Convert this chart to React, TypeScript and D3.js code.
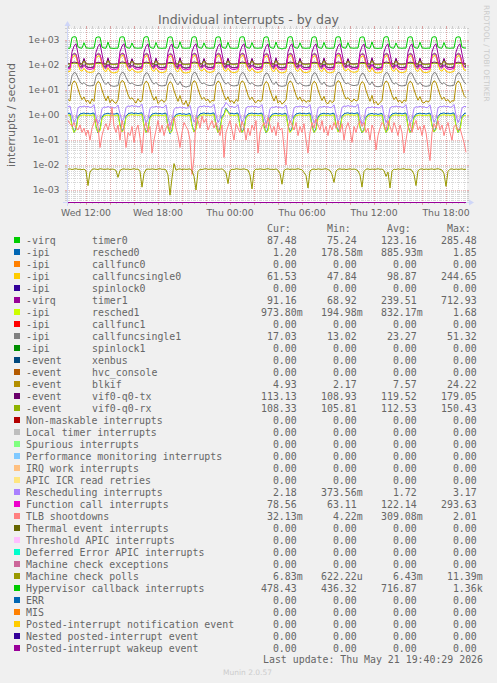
import React from "react";
import * as d3 from "d3";

const WIDTH = 497;
const HEIGHT = 683;
const X0 = 67;
const X1 = 467;
const Y_TOP = 28;
const Y_BOT = 202;

const startTime = new Date(2026, 4, 20, 10, 25);
const endTime = new Date(2026, 4, 21, 19, 45);
const firstSample = new Date(2026, 4, 20, 10, 30);
const stepMinutes = 10;

const title = "Individual interrupts - by day";
const yAxisTitle = "interrupts / second";
const lastUpdate = "Last update: Thu May 21 19:40:29 2026";
const munin = "Munin 2.0.57";
const sideText = "RRDTOOL / TOBI OETIKER";

const yTickValues = [1e-3, 1e-2, 1e-1, 1e0, 1e1, 1e2, 1e3];
const yTickLabels = ["1e-03", "1e-02", "1e-01", "1e+00", "1e+01", "1e+02", "1e+03"];

const palette = [
  "#00CC00", "#0066B3", "#FF8000", "#FFCC00", "#330099", "#990099", "#CCFF00", "#FF0000",
  "#808080", "#008F00", "#00487D", "#B35A00", "#B38F00", "#6B006B", "#8FB300", "#B30000",
  "#BEBEBE", "#80FF80", "#80C9FF", "#FFC080", "#FFE680", "#AA80FF", "#EE00CC", "#FF8080",
  "#666600", "#FFBFFF", "#00FFCC", "#CC6699", "#999900", "#00CC00", "#0066B3", "#FF8000",
  "#FFCC00", "#330099", "#990099",
];

const legendPrefix = [
  "-virq", "-ipi", "-ipi", "-ipi", "-ipi", "-virq", "-ipi", "-ipi", "-ipi", "-ipi",
  "-event", "-event", "-event", "-event", "-event",
  "", "", "", "", "", "", "", "", "", "", "", "", "", "", "", "", "", "", "", "",
];
const legendName = [
  "timer0", "resched0", "callfunc0", "callfuncsingle0", "spinlock0", "timer1", "resched1",
  "callfunc1", "callfuncsingle1", "spinlock1", "xenbus", "hvc_console", "blkif", "vif0-q0-tx",
  "vif0-q0-rx", "Non-maskable interrupts", "Local timer interrupts", "Spurious interrupts",
  "Performance monitoring interrupts", "IRQ work interrupts", "APIC ICR read retries",
  "Rescheduling interrupts", "Function call interrupts", "TLB shootdowns",
  "Thermal event interrupts", "Threshold APIC interrupts", "Deferred Error APIC interrupts",
  "Machine check exceptions", "Machine check polls", "Hypervisor callback interrupts", "ERR",
  "MIS", "Posted-interrupt notification event", "Nested posted-interrupt event",
  "Posted-interrupt wakeup event",
];

const columnHeaders = ["Cur:", "Min:", "Avg:", "Max:"];
const curValues = [
  "87.48", "1.20", "0.00", "61.53", "0.00", "91.16", "973.80m", "0.00", "17.03", "0.00",
  "0.00", "0.00", "4.93", "113.13", "108.33", "0.00", "0.00", "0.00", "0.00", "0.00", "0.00",
  "2.18", "78.56", "32.13m", "0.00", "0.00", "0.00", "0.00", "6.83m", "478.43", "0.00",
  "0.00", "0.00", "0.00", "0.00",
];
const minValues = [
  "75.24", "178.58m", "0.00", "47.84", "0.00", "68.92", "194.98m", "0.00", "13.02", "0.00",
  "0.00", "0.00", "2.17", "108.93", "105.81", "0.00", "0.00", "0.00", "0.00", "0.00", "0.00",
  "373.56m", "63.11", "4.22m", "0.00", "0.00", "0.00", "0.00", "622.22u", "436.32", "0.00",
  "0.00", "0.00", "0.00", "0.00",
];
const avgValues = [
  "123.16", "885.93m", "0.00", "98.87", "0.00", "239.51", "832.17m", "0.00", "23.27", "0.00",
  "0.00", "0.00", "7.57", "119.52", "112.53", "0.00", "0.00", "0.00", "0.00", "0.00", "0.00",
  "1.72", "122.14", "309.08m", "0.00", "0.00", "0.00", "0.00", "6.43m", "716.87", "0.00",
  "0.00", "0.00", "0.00", "0.00",
];
const maxValues = [
  "285.48", "1.85", "0.00", "244.65", "0.00", "712.93", "1.68", "0.00", "51.32", "0.00",
  "0.00", "0.00", "24.22", "179.05", "150.43", "0.00", "0.00", "0.00", "0.00", "0.00", "0.00",
  "3.17", "293.63", "2.01", "0.00", "0.00", "0.00", "0.00", "11.39m", "1.36k", "0.00",
  "0.00", "0.00", "0.00", "0.00",
];

// 10-minute samples, Wed 10:30 .. Thu 19:40 (200 points)
const timer0 = [
  84, 86,
  248, 282, 271, 116, 89, 83, 104, 86, 81, 79, 82, 85,
  242, 279, 268, 112, 87, 81, 108, 84, 80, 77, 80, 83,
  251, 285, 274, 118, 90, 84, 101, 87, 82, 80, 83, 86,
  245, 280, 270, 114, 88, 82, 110, 85, 79, 78, 81, 84,
  240, 276, 266, 111, 86, 80, 106, 83, 78, 75.24, 79, 82,
  253, 283, 273, 117, 89, 84, 103, 86, 81, 79, 82, 85,
  246, 281, 269, 115, 88, 82, 109, 85, 80, 78, 81, 84,
  249, 285.48, 272, 116, 90, 83, 102, 87, 82, 79, 83, 86,
  243, 278, 267, 113, 87, 81, 107, 84, 79, 77, 80, 83,
  250, 282, 271, 117, 89, 83, 104, 86, 81, 79, 82, 85,
  244, 279, 268, 114, 87, 82, 111, 84, 80, 78, 81, 84,
  252, 285, 274, 118, 90, 84, 103, 87, 82, 80, 83, 86,
  241, 277, 266, 112, 86, 80, 106, 83, 78, 76, 79, 82,
  248, 281, 270, 115, 88, 83, 105, 85, 80, 78, 81, 84,
  245, 280, 269, 114, 88, 82, 108, 85, 80, 78, 82, 85,
  250, 283, 272, 116, 89, 83, 104, 86, 81, 79, 82, 85,
  247, 281, 270, 115, 89, 87.48,
];

const resched0 = [
  1.15, 1.18,
  0.4, 0.2, 0.3, 0.85, 1.1, 1.15, 1.2, 1.12, 1.18, 1.1, 1.16, 1.2,
  0.35, 0.19, 0.28, 0.8, 1.08, 1.12, 1.18, 1.1, 1.15, 1.08, 1.13, 1.17,
  0.42, 0.22, 0.32, 0.88, 1.12, 1.18, 1.22, 1.14, 1.2, 1.12, 1.18, 1.22,
  0.38, 0.2, 0.29, 0.83, 1.09, 1.14, 1.19, 1.11, 1.16, 1.09, 1.15, 1.19,
  0.33, 0.179, 0.26, 0.78, 1.05, 1.1, 1.15, 1.08, 1.12, 1.05, 1.1, 1.15,
  0.41, 0.21, 0.31, 0.87, 1.11, 1.16, 1.21, 1.13, 1.19, 1.11, 1.17, 1.21,
  0.4, 0.2, 0.3, 0.85, 1.1, 1.85, 1.4, 1.12, 1.18, 1.1, 1.16, 1.2,
  0.39, 0.2, 0.3, 0.84, 1.1, 1.15, 1.2, 1.12, 1.17, 1.1, 1.15, 1.19,
  0.36, 0.19, 0.28, 0.8, 1.07, 1.12, 1.17, 1.09, 1.14, 1.07, 1.12, 1.17,
  0.4, 0.21, 0.3, 0.85, 1.1, 1.15, 1.2, 1.12, 1.18, 1.1, 1.16, 1.2,
  0.37, 0.2, 0.29, 0.82, 1.08, 1.13, 1.18, 1.1, 1.15, 1.08, 1.14, 1.18,
  0.42, 0.22, 0.32, 0.88, 1.12, 1.18, 1.22, 1.14, 1.2, 1.12, 1.18, 1.22,
  0.34, 0.19, 0.27, 0.79, 1.06, 1.11, 1.16, 1.08, 1.13, 1.06, 1.11, 1.16,
  0.4, 0.2, 0.3, 0.85, 1.1, 1.15, 1.2, 1.12, 1.18, 1.1, 1.16, 1.2,
  0.38, 0.2, 0.29, 0.83, 1.09, 1.14, 1.19, 1.11, 1.16, 1.09, 1.15, 1.19,
  0.41, 0.21, 0.31, 0.86, 1.11, 1.16, 1.21, 1.13, 1.19, 1.11, 1.17, 1.21,
  0.4, 0.2, 0.3, 0.85, 1.12, 1.2,
];

const callfuncsingle0 = [
  54, 55,
  188, 241, 224, 107, 63, 56, 74, 57, 52, 50, 52, 54,
  182, 236, 218, 103, 61, 54, 78, 55, 50, 48, 51, 53,
  191, 244.65, 227, 109, 64, 57, 72, 58, 53, 51, 53, 55,
  185, 239, 221, 105, 62, 55, 76, 56, 51, 49, 52, 54,
  180, 234, 216, 101, 60, 53, 80, 54, 49, 47.84, 50, 52,
  190, 243, 226, 108, 64, 57, 73, 57, 52, 50, 53, 55,
  186, 240, 222, 106, 62, 55, 75, 56, 51, 49, 52, 54,
  189, 242, 225, 108, 63, 56, 74, 57, 52, 50, 53, 55,
  181, 235, 217, 102, 60, 54, 79, 55, 50, 48, 51, 53,
  187, 240, 223, 106, 62, 55, 75, 56, 51, 49, 52, 54,
  183, 237, 219, 104, 61, 54, 77, 55, 50, 48, 51, 53,
  192, 244, 227, 110, 64, 57, 72, 58, 53, 51, 53, 55,
  180, 234, 216, 101, 60, 53, 79, 54, 49, 48, 50, 52,
  186, 240, 222, 106, 62, 55, 75, 56, 51, 49, 52, 54,
  184, 238, 220, 105, 61, 55, 76, 55, 51, 49, 52, 54,
  189, 242, 225, 108, 63, 56, 74, 57, 52, 50, 53, 55,
  186, 239, 221, 106, 63, 61.53,
];

const timer1 = [
  80, 82,
  335, 565, 708, 285, 112, 86, 185, 88, 81, 78, 80, 83,
  325, 550, 700, 275, 108, 84, 195, 87, 79, 76, 78, 81,
  340, 570, 712.93, 290, 114, 87, 180, 89, 82, 79, 81, 84,
  330, 558, 703, 282, 110, 85, 192, 87, 80, 77, 79, 82,
  322, 548, 698, 272, 107, 83, 198, 86, 78, 75, 78, 80,
  338, 566, 710, 288, 113, 86, 183, 88, 81, 78, 80, 83,
  332, 560, 705, 280, 111, 85, 190, 87, 80, 77, 79, 82,
  336, 568, 709, 286, 112, 86, 186, 88, 81, 78, 81, 83,
  326, 552, 699, 276, 108, 84, 196, 86, 79, 76, 78, 81,
  334, 562, 707, 283, 111, 85, 188, 88, 80, 77, 80, 82,
  328, 556, 702, 279, 109, 84, 193, 87, 79, 76, 79, 81,
  339, 569, 711, 289, 113, 87, 182, 89, 82, 79, 81, 84,
  324, 550, 697, 274, 107, 83, 197, 86, 78, 68.92, 77, 80,
  333, 561, 706, 281, 110, 85, 189, 87, 80, 77, 79, 82,
  329, 557, 703, 279, 109, 84, 191, 87, 79, 76, 79, 81,
  336, 565, 708, 285, 112, 86, 185, 88, 81, 78, 80, 83,
  331, 559, 704, 280, 113, 91.16,
];

const resched1 = [
  0.98, 1.0,
  0.35, 0.2, 0.25, 0.75, 0.95, 0.98, 1.02, 0.96, 1.0, 0.94, 0.99, 1.02,
  0.32, 0.2, 0.23, 0.72, 0.93, 0.96, 1.0, 0.94, 0.98, 0.92, 0.97, 1.0,
  0.37, 0.21, 0.27, 0.78, 0.97, 1.0, 1.04, 0.98, 1.02, 0.96, 1.01, 1.04,
  0.34, 0.2, 0.25, 0.74, 0.94, 0.97, 1.01, 0.95, 0.99, 0.93, 0.98, 1.01,
  0.3, 0.195, 0.22, 0.7, 0.91, 0.94, 0.98, 0.92, 0.96, 0.9, 0.95, 0.98,
  0.36, 0.21, 0.26, 0.77, 0.96, 0.99, 1.03, 0.97, 1.01, 0.95, 1.0, 1.03,
  0.35, 0.2, 0.25, 0.75, 0.95, 1.68, 1.25, 0.96, 1.0, 0.94, 0.99, 1.02,
  0.34, 0.2, 0.25, 0.74, 0.95, 0.98, 1.02, 0.96, 1.0, 0.94, 0.98, 1.01,
  0.31, 0.2, 0.23, 0.71, 0.92, 0.95, 0.99, 0.93, 0.97, 0.91, 0.96, 0.99,
  0.35, 0.2, 0.25, 0.75, 0.95, 0.98, 1.02, 0.96, 1.0, 0.94, 0.99, 1.02,
  0.33, 0.2, 0.24, 0.73, 0.94, 0.97, 1.01, 0.95, 0.99, 0.93, 0.98, 1.01,
  0.37, 0.21, 0.27, 0.78, 0.97, 1.0, 1.04, 0.98, 1.02, 0.96, 1.01, 1.04,
  0.31, 0.2, 0.23, 0.71, 0.92, 0.95, 0.99, 0.93, 0.97, 0.91, 0.96, 0.99,
  0.35, 0.2, 0.25, 0.75, 0.95, 0.98, 1.02, 0.96, 1.0, 0.94, 0.99, 1.02,
  0.34, 0.2, 0.25, 0.74, 0.94, 0.97, 1.01, 0.95, 0.99, 0.93, 0.98, 1.01,
  0.36, 0.21, 0.26, 0.76, 0.96, 0.99, 1.03, 0.97, 1.01, 0.95, 1.0, 1.03,
  0.35, 0.2, 0.25, 0.75, 0.95, 0.9738,
];

const callfuncsingle1 = [
  15, 15.5,
  37, 50, 47, 31, 21, 17, 20, 16, 15, 14.5, 15, 15.5,
  35, 48, 45, 29, 20, 16.5, 21, 15.5, 14.5, 14, 14.5, 15,
  38, 51.32, 48, 32, 22, 17.5, 19.5, 16.5, 15.5, 15, 15.5, 16,
  36, 49, 46, 30, 21, 17, 20.5, 16, 15, 14.5, 15, 15.5,
  34, 47, 44, 28, 20, 16, 22, 15, 14, 13.02, 14, 14.5,
  38, 51, 48, 31, 22, 17.5, 19.5, 16.5, 15.5, 15, 15.5, 16,
  36, 49, 46, 30, 21, 17, 20.5, 16, 15, 14.5, 15, 15.5,
  37, 50, 47, 31, 21.5, 17, 20, 16, 15, 14.5, 15, 15.5,
  35, 48, 45, 29, 20, 16.5, 21.5, 15.5, 14.5, 14, 14.5, 15,
  37, 50, 47, 31, 21, 17, 20, 16, 15, 14.5, 15, 15.5,
  36, 49, 46, 30, 20.5, 16.5, 21, 15.5, 14.5, 14, 14.5, 15,
  38, 51, 48, 32, 22, 17.5, 19.5, 16.5, 15.5, 15, 15.5, 16,
  34, 47, 44, 28, 20, 16, 21.5, 15, 14, 13.5, 14, 14.5,
  37, 50, 47, 31, 21, 17, 20, 16, 15, 14.5, 15, 15.5,
  36, 49, 46, 30, 21, 16.5, 20.5, 15.5, 14.5, 14, 14.5, 15,
  37, 50, 47, 31, 21.5, 17, 20, 16, 15, 14.5, 15, 15.5,
  36, 49, 46, 30, 21, 17.03,
];

const blkif = [
  4.2, 3.6,
  17, 23, 20, 11, 6.2, 4.1, 5.3, 3.4, 3.9, 2.8, 4.4, 3.5,
  16, 22, 19, 10, 5.8, 3.7, 5.8, 3.1, 4.2, 3.3, 2.9, 4.0,
  18, 24.22, 21, 11.5, 6.5, 4.3, 4.9, 3.8, 3.0, 4.5, 3.4, 3.7,
  16.5, 22.5, 19.5, 10.5, 6.0, 3.9, 5.5, 2.9, 3.6, 4.1, 3.2, 3.9,
  15.5, 21.5, 18.5, 9.5, 5.6, 3.5, 6.0, 3.2, 2.6, 3.8, 2.17, 3.4,
  17.5, 23.5, 20.5, 11, 6.3, 4.2, 5.1, 3.7, 4.3, 3.1, 3.9, 3.6,
  16.8, 22.8, 19.8, 10.8, 6.1, 4.0, 5.4, 3.3, 3.8, 2.9, 4.2, 3.5,
  17.2, 23.2, 20.2, 11.2, 6.2, 4.1, 5.2, 3.6, 3.1, 4.0, 3.5, 3.8,
  15.8, 21.8, 18.8, 9.8, 5.7, 3.6, 5.9, 3.0, 3.7, 2.7, 3.3, 3.9,
  17, 23, 20, 11, 6.2, 4.1, 5.3, 3.5, 4.1, 3.2, 3.8, 3.4,
  16.2, 22.2, 19.2, 10.2, 5.9, 3.8, 5.6, 3.2, 2.8, 3.9, 3.1, 3.6,
  17.8, 23.8, 20.8, 11.8, 6.4, 4.3, 5.0, 3.9, 3.4, 4.4, 3.6, 4.0,
  15.6, 21.6, 18.6, 9.6, 5.6, 3.5, 6.1, 2.9, 3.5, 2.5, 3.2, 3.7,
  17, 23, 20, 11, 6.2, 4.1, 5.3, 3.4, 3.9, 3.0, 4.0, 3.5,
  16.4, 22.4, 19.4, 10.4, 6.0, 3.9, 5.5, 3.3, 3.0, 3.7, 3.3, 3.8,
  17.3, 23.3, 20.3, 11.3, 6.3, 4.2, 5.2, 3.6, 4.2, 3.1, 3.7, 3.6,
  16.8, 22.8, 19.8, 10.8, 6.1, 4.93,
];

const vifTx = [
  113, 114,
  124, 131, 128, 118, 114, 112, 172, 115, 111, 110, 112, 113,
  122, 129, 126, 117, 113, 111, 176, 114, 110, 109, 111, 112,
  125, 132, 129, 119, 115, 113, 170, 116, 112, 111, 113, 114,
  123, 130, 127, 118, 114, 112, 174, 115, 111, 110, 112, 113,
  121, 128, 125, 116, 112, 110, 179.05, 113, 109, 108.93, 110, 111,
  125, 132, 129, 119, 115, 113, 171, 116, 112, 111, 113, 114,
  123, 130, 127, 118, 114, 112, 173, 115, 111, 110, 112, 113,
  124, 131, 128, 118, 114, 112, 172, 115, 111, 110, 112, 113,
  122, 129, 126, 117, 113, 111, 177, 114, 110, 109, 111, 112,
  124, 131, 128, 118, 114, 112, 173, 115, 111, 110, 112, 113,
  123, 130, 127, 117, 113, 111, 175, 114, 110, 109, 111, 112,
  125, 132, 129, 119, 115, 113, 170, 116, 112, 111, 113, 114,
  121, 128, 125, 116, 112, 110, 178, 113, 109, 109, 110, 111,
  124, 131, 128, 118, 114, 112, 173, 115, 111, 110, 112, 113,
  123, 130, 127, 117, 113, 111, 174, 114, 110, 109, 111, 112,
  124, 131, 128, 118, 114, 112, 172, 115, 111, 110, 112, 113,
  123, 130, 127, 118, 114, 113.13,
];

const vifRx = [
  108, 109,
  114, 118, 116, 112, 109, 108, 146, 110, 107, 106, 108, 109,
  113, 117, 115, 111, 108, 107, 149, 109, 106, 105.81, 107, 108,
  115, 119, 117, 113, 110, 109, 144, 111, 108, 107, 109, 110,
  114, 118, 116, 112, 109, 108, 147, 110, 107, 106, 108, 109,
  113, 117, 115, 111, 108, 107, 150.43, 109, 106, 106, 107, 108,
  115, 119, 117, 113, 110, 109, 145, 111, 108, 107, 109, 110,
  114, 118, 116, 112, 109, 108, 146, 110, 107, 106, 108, 109,
  114, 118, 116, 112, 109, 108, 147, 110, 107, 106, 108, 109,
  113, 117, 115, 111, 108, 107, 149, 109, 106, 106, 107, 108,
  114, 118, 116, 112, 109, 108, 146, 110, 107, 106, 108, 109,
  113, 117, 115, 111, 108, 107, 148, 109, 106, 106, 107, 108,
  115, 119, 117, 113, 110, 109, 144, 111, 108, 107, 109, 110,
  113, 117, 115, 111, 108, 107, 149, 109, 106, 106, 107, 108,
  114, 118, 116, 112, 109, 108, 146, 110, 107, 106, 108, 109,
  113, 117, 115, 111, 108, 107, 147, 109, 106, 106, 107, 108,
  114, 118, 116, 112, 109, 108, 146, 110, 107, 106, 108, 109,
  114, 118, 116, 112, 109, 108.33,
];

const rescheduling = [
  2.1, 2.3,
  1.0, 0.5, 0.7, 1.9, 2.2, 2.1, 2.3, 2.1, 2.2, 2.0, 2.1, 2.6,
  0.9, 0.45, 0.65, 1.8, 2.1, 2.0, 2.2, 2.0, 2.1, 1.9, 2.0, 2.5,
  1.1, 0.55, 0.75, 2.0, 2.3, 2.2, 2.4, 2.2, 2.3, 2.1, 2.2, 2.7,
  0.95, 0.48, 0.68, 1.85, 2.15, 2.05, 2.25, 2.05, 2.15, 1.95, 2.05, 2.55,
  0.85, 0.374, 0.6, 1.7, 2.0, 1.9, 2.1, 1.9, 2.0, 1.85, 1.95, 2.4,
  1.05, 0.52, 0.72, 1.95, 2.25, 2.15, 2.35, 2.15, 2.25, 2.05, 2.15, 2.65,
  1.0, 0.5, 0.7, 1.9, 2.2, 3.17, 2.6, 2.1, 2.2, 2.0, 2.1, 2.6,
  1.0, 0.5, 0.7, 1.9, 2.2, 2.1, 2.3, 2.1, 2.2, 2.0, 2.1, 2.6,
  0.9, 0.46, 0.66, 1.8, 2.1, 2.0, 2.2, 2.0, 2.1, 1.9, 2.0, 2.5,
  1.0, 0.5, 0.7, 1.9, 2.2, 2.1, 2.3, 2.1, 2.2, 2.0, 2.1, 2.6,
  0.95, 0.48, 0.68, 1.85, 2.15, 2.05, 2.25, 2.05, 2.15, 1.95, 2.05, 2.55,
  1.1, 0.55, 0.75, 2.0, 2.3, 2.2, 2.4, 2.2, 2.3, 2.1, 2.2, 2.7,
  0.88, 0.44, 0.62, 1.75, 2.05, 1.95, 2.15, 1.95, 2.05, 1.9, 2.0, 2.45,
  1.0, 0.5, 0.7, 1.9, 2.2, 2.1, 2.3, 2.1, 2.2, 2.0, 2.1, 2.6,
  0.95, 0.47, 0.67, 1.85, 2.15, 2.05, 2.25, 2.05, 2.15, 1.95, 2.05, 2.55,
  1.02, 0.51, 0.71, 1.92, 2.22, 2.12, 2.32, 2.12, 2.22, 2.02, 2.12, 2.62,
  1.0, 0.5, 0.7, 1.9, 2.2, 2.18,
];

const functionCall = [
  70, 72,
  238, 290, 268, 142, 83, 73, 98, 75, 69, 66, 70, 72,
  232, 284, 262, 137, 81, 71, 103, 73, 67, 64, 68, 70,
  241, 293, 271, 145, 85, 74, 96, 76, 70, 67, 71, 73,
  235, 287, 265, 140, 82, 72, 101, 74, 68, 65, 69, 71,
  229, 281, 259, 135, 80, 70, 106, 72, 66, 63.11, 67, 69,
  240, 292, 270, 144, 84, 74, 97, 75, 69, 66, 70, 72,
  236, 288, 266, 141, 82, 72, 100, 74, 68, 65, 69, 71,
  239, 291, 269, 143, 84, 73, 99, 75, 69, 66, 70, 72,
  231, 283, 261, 136, 80, 71, 104, 73, 67, 64, 68, 70,
  237, 289, 267, 141, 83, 72, 99, 74, 68, 65, 69, 71,
  233, 285, 263, 138, 81, 71, 102, 73, 67, 64, 68, 70,
  242, 293.63, 272, 146, 85, 75, 96, 76, 70, 67, 71, 73,
  230, 282, 260, 135, 80, 70, 105, 72, 66, 64, 67, 69,
  236, 288, 266, 140, 82, 72, 100, 74, 68, 65, 69, 71,
  234, 286, 264, 139, 81, 71, 101, 73, 67, 65, 68, 70,
  239, 290, 268, 143, 83, 73, 98, 75, 69, 66, 70, 72,
  236, 287, 264, 139, 84, 78.56,
];

const tlbShootdowns = [
  0.6, 0.45,
  0.35, 0.5, 0.3, 0.25, 0.4, 0.2, 0.3, 0.15, 0.25, 0.1, 0.3, 0.5,
  0.7, 0.35, 0.05, 0.15, 0.3, 0.45, 0.25, 0.5, 2.01, 0.35, 0.2, 0.4,
  0.1, 0.6, 0.3, 0.05, 0.2, 0.15, 0.35, 0.08, 0.25, 0.4, 0.12, 0.03,
  0.3, 0.5, 0.2, 0.35, 0.03, 0.1, 0.25, 0.6, 0.2, 0.4, 0.15, 0.3,
  0.45, 0.25, 0.6, 0.8, 0.3, 0.15, 0.05, 0.2, 0.5, 0.35, 0.25, 0.1,
  0.00422, 0.02, 0.8, 0.6, 0.3, 0.9, 0.5, 0.7, 0.25, 0.4, 0.6, 0.3,
  0.5, 0.3, 0.15, 0.4, 0.02, 0.2, 0.35, 0.6, 0.25, 0.1, 0.45, 0.3,
  0.2, 0.55, 0.35, 0.1, 0.3, 0.15, 0.4, 0.25, 0.6, 0.03, 0.2, 0.35,
  0.5, 0.3, 0.8, 0.4, 0.2, 0.35, 0.15, 0.5, 0.25, 0.3, 0.05, 0.01,
  0.3, 0.6, 0.4, 0.25, 0.5, 0.15, 0.35, 0.2, 0.45, 0.1, 0.03, 0.2,
  0.5, 0.3, 0.7, 0.4, 0.25, 0.6, 0.2, 0.35, 0.15, 0.4, 0.25, 0.5,
  0.3, 0.6, 0.2, 0.45, 0.1, 0.3, 0.5, 0.25, 0.08, 0.35, 0.2, 0.4,
  0.6, 0.35, 0.5, 0.2, 0.3, 0.1, 0.4, 0.25, 0.04, 0.15, 0.3, 0.5,
  0.4, 0.25, 0.6, 0.35, 0.2, 0.5, 0.3, 0.15, 0.4, 0.2, 0.03, 0.1,
  0.3, 0.5, 0.2, 0.4, 0.6, 0.25, 0.35, 0.15, 0.4, 0.2, 0.05, 0.015,
  0.2, 0.45, 0.3, 0.6, 0.25, 0.4, 0.15, 0.3, 0.5, 0.2, 0.1, 0.35,
  0.4, 0.25, 0.3, 0.15, 0.08, 0.03213,
];

const machineCheckPolls = [
  0.0068, 0.0070, 0.0066, 0.0069, 0.0071, 0.0067, 0.0068, 0.0065, 0.0069, 0.0058,
  0.0015, 0.0052, 0.0067, 0.0070, 0.0068, 0.0066, 0.0071, 0.0069, 0.0067, 0.0068,
  0.0070, 0.0066, 0.0069, 0.0067, 0.0060, 0.0032, 0.0061, 0.0068, 0.0070, 0.0067,
  0.0069, 0.0066, 0.0068, 0.0071, 0.0067, 0.0069, 0.0055, 0.0013, 0.0045, 0.0066,
  0.0069, 0.0067, 0.0070, 0.0068, 0.0066, 0.0069, 0.0071, 0.0067, 0.0068, 0.0064,
  0.0040, 0.00062, 0.0030, 0.01139, 0.0062, 0.0068, 0.0070, 0.0066, 0.0069, 0.0067,
  0.0068, 0.0070, 0.0059, 0.0035, 0.0010, 0.0055, 0.0068, 0.0066, 0.0069, 0.0071,
  0.0067, 0.0068, 0.0070, 0.0066, 0.0069, 0.0067, 0.0068, 0.0070, 0.0062, 0.0048,
  0.0018, 0.0060, 0.0068, 0.0066, 0.0071, 0.0069, 0.0067, 0.0068, 0.0070, 0.0066,
  0.0063, 0.0040, 0.0011, 0.0058, 0.0069, 0.0067, 0.0070, 0.0068, 0.0066, 0.0069,
  0.0071, 0.0067, 0.0068, 0.0066, 0.0070, 0.0062, 0.0045, 0.0017, 0.0060, 0.0068,
  0.0070, 0.0066, 0.0069, 0.0067, 0.0068, 0.0071, 0.0067, 0.0065, 0.0050, 0.0038,
  0.0012, 0.0058, 0.0067, 0.0069, 0.0066, 0.0070, 0.0068, 0.0067, 0.0069, 0.0071,
  0.0066, 0.0060, 0.0042, 0.0020, 0.0057, 0.0068, 0.0070, 0.0067, 0.0069, 0.0066,
  0.0068, 0.0070, 0.0067, 0.0069, 0.0066, 0.0058, 0.0040, 0.0013, 0.0055, 0.0068,
  0.0070, 0.0066, 0.0069, 0.0067, 0.0068, 0.0071, 0.0067, 0.0069, 0.0060, 0.0035,
  0.0052, 0.0012, 0.0058, 0.0068, 0.0066, 0.0070, 0.0067, 0.0069, 0.0071, 0.0066,
  0.0068, 0.0067, 0.0061, 0.0042, 0.0015, 0.0059, 0.0068, 0.0070, 0.0066, 0.0069,
  0.0067, 0.0068, 0.0070, 0.0066, 0.0069, 0.0071, 0.0067, 0.0063, 0.0045, 0.0014,
  0.0056, 0.0068, 0.0070, 0.0066, 0.0069, 0.0067, 0.0068, 0.0070, 0.0066, 0.00683,
];

const hypervisor = [
  472, 468,
  1260, 1350, 1320, 530, 485, 470, 780, 488, 476, 466, 478, 471,
  1240, 1330, 1300, 515, 478, 468, 820, 480, 470, 462, 475, 468,
  1270, 1345, 1315, 525, 482, 472, 760, 492, 478, 470, 480, 474,
  1255, 1360, 1330, 520, 476, 466, 800, 484, 472, 464, 476, 470,
  1248, 1335, 1305, 518, 480, 470, 850, 486, 474, 468, 479, 472,
  1262, 1352, 1318, 528, 484, 471, 770, 490, 477, 467, 481, 469,
  1250, 1340, 1310, 522, 479, 469, 810, 485, 473, 465, 477, 470,
  1265, 1348, 1322, 526, 483, 473, 790, 489, 476, 469, 482, 473,
  1245, 1338, 1308, 519, 477, 467, 830, 483, 471, 436.32, 474, 468,
  1258, 1355, 1325, 524, 481, 470, 775, 487, 475, 466, 478, 471,
  1252, 1342, 1312, 521, 478, 468, 805, 484, 472, 465, 476, 469,
  1268, 1350, 1320, 527, 484, 472, 785, 490, 478, 470, 482, 474,
  1243, 1332, 1302, 517, 476, 466, 840, 482, 470, 462, 474, 467,
  1260, 1358, 1328, 525, 482, 471, 765, 488, 476, 468, 480, 472,
  1254, 1344, 1314, 522, 479, 469, 815, 485, 473, 466, 477, 470,
  1262, 1350, 1318, 526, 483, 471, 795, 489, 477, 467, 481, 473,
  1250, 1340, 1310, 520, 482, 478.43,
];

const N = timer0.length;
const zeroSeries: number[] = new Array(N).fill(0);

const seriesData: number[][] = [
  timer0, resched0, zeroSeries, callfuncsingle0, zeroSeries, timer1, resched1, zeroSeries,
  callfuncsingle1, zeroSeries, zeroSeries, zeroSeries, blkif, vifTx, vifRx,
  zeroSeries, zeroSeries, zeroSeries, zeroSeries, zeroSeries, zeroSeries,
  rescheduling, functionCall, tlbShootdowns, zeroSeries, zeroSeries, zeroSeries, zeroSeries,
  machineCheckPolls, hypervisor, zeroSeries, zeroSeries, zeroSeries, zeroSeries, zeroSeries,
];

const FONT = "DejaVu Sans, Liberation Sans, sans-serif";
const MONO = "DejaVu Sans Mono, Liberation Mono, monospace";
const TEXT_COLOR = "#666666";
const AXIS_COLOR = "#CFD6F8";
const GRID_COLOR = "rgba(150,150,150,0.38)";
const MGRID_COLOR = "rgba(225,90,90,0.42)";

function splitValue(s: string): [string, string] {
  const m = s.match(/^([\d.]+)([a-zA-Z]?)$/);
  if (!m) return [s, ""];
  return [m[1], m[2]];
}

export default function App() {
  const x = d3.scaleTime().domain([startTime, endTime]).range([X0, X1]);
  const y = d3
    .scaleLog()
    .domain([Math.pow(10, -3.48), Math.pow(10, 3.48)])
    .range([Y_BOT, Y_TOP]);

  const times = d3.range(N).map((i) => d3.timeMinute.offset(firstSample, i * stepMinutes));

  const yPos = (v: number) => {
    if (!(v > 0)) return Y_BOT + 0.5;
    return Math.max(Y_TOP, Math.min(Y_BOT, y(v)));
  };
  const line = d3
    .line<number>()
    .x((_, i) => x(times[i]))
    .y((v) => yPos(v));

  const minorTimes = d3.timeMinute.every(30)!.range(startTime, endTime);
  const majorTimes = d3.timeHour.every(2)!.range(startTime, endTime);
  const labelTimes = x.ticks(d3.timeHour.every(6)!);
  const fmt = d3.timeFormat("%a %H:%M");

  const minorY: number[] = [];
  for (let k = -4; k <= 3; k++) {
    for (let m = 2; m <= 9; m++) {
      const v = m * Math.pow(10, k);
      const py = y(v);
      if (py > Y_TOP && py < Y_BOT) minorY.push(py);
    }
  }
  const majorY = yTickValues.map((v) => y(v));

  const colX = [296.7, 356.7, 416.7, 476.7];
  const headerX = [267, 327, 387, 447];
  const valueCols = [curValues, minValues, avgValues, maxValues];
  const rowY0 = 243.5;
  const rowH = 12;

  return (
    <svg
      width={WIDTH}
      height={HEIGHT}
      viewBox={`0 0 ${WIDTH} ${HEIGHT}`}
      style={{ position: "absolute", left: 0, top: 0, display: "block" }}
    >
      <rect x={0} y={0} width={WIDTH} height={HEIGHT} fill="#F0F0F0" />
      <rect x={X0} y={Y_TOP} width={X1 - X0} height={Y_BOT - Y_TOP} fill="#FFFFFF" />

      <g>
        {minorTimes.map((t, i) => {
          const px = Math.round(x(t)) + 0.5;
          return (
            <g key={"mv" + i}>
              <line x1={px} x2={px} y1={Y_TOP} y2={Y_BOT} stroke={GRID_COLOR} strokeDasharray="1,1" />
              <line x1={px} x2={px} y1={Y_BOT} y2={Y_BOT + 2} stroke={GRID_COLOR} />
              <line x1={px} x2={px} y1={Y_TOP - 2} y2={Y_TOP} stroke={GRID_COLOR} />
            </g>
          );
        })}
        {minorY.map((py, i) => {
          const yy = Math.round(py) + 0.5;
          return (
            <g key={"mh" + i}>
              <line x1={X0} x2={X1} y1={yy} y2={yy} stroke={GRID_COLOR} strokeDasharray="1,1" />
              <line x1={X0 - 2} x2={X0} y1={yy} y2={yy} stroke={GRID_COLOR} />
              <line x1={X1} x2={X1 + 2} y1={yy} y2={yy} stroke={GRID_COLOR} />
            </g>
          );
        })}
      </g>
      <g>
        {majorTimes.map((t, i) => {
          const px = Math.round(x(t)) + 0.5;
          return (
            <g key={"Mv" + i}>
              <line x1={px} x2={px} y1={Y_TOP} y2={Y_BOT} stroke={MGRID_COLOR} strokeDasharray="1,1" />
              <line x1={px} x2={px} y1={Y_BOT} y2={Y_BOT + 3} stroke={MGRID_COLOR} />
              <line x1={px} x2={px} y1={Y_TOP - 2} y2={Y_TOP} stroke={MGRID_COLOR} />
            </g>
          );
        })}
        {majorY.map((py, i) => {
          const yy = Math.round(py) + 0.5;
          return (
            <g key={"Mh" + i}>
              <line x1={X0} x2={X1} y1={yy} y2={yy} stroke={MGRID_COLOR} strokeDasharray="1,1" />
              <line x1={X0 - 2} x2={X0} y1={yy} y2={yy} stroke={MGRID_COLOR} />
              <line x1={X1} x2={X1 + 2} y1={yy} y2={yy} stroke={MGRID_COLOR} />
            </g>
          );
        })}
      </g>

      <line x1={X0 - 4} x2={X1 + 4} y1={Y_BOT + 0.5} y2={Y_BOT + 0.5} stroke={AXIS_COLOR} />
      <line x1={X0 + 0.5} x2={X0 + 0.5} y1={Y_BOT + 4} y2={Y_TOP - 4} stroke={AXIS_COLOR} />
      <polygon
        points={`${X1 + 2},${Y_BOT - 3 + 0.5} ${X1 + 2},${Y_BOT + 3 + 0.5} ${X1 + 7},${Y_BOT + 0.5}`}
        fill={AXIS_COLOR}
      />
      <polygon
        points={`${X0 - 3 + 0.5},${Y_TOP - 2} ${X0 + 3 + 0.5},${Y_TOP - 2} ${X0 + 0.5},${Y_TOP - 7}`}
        fill={AXIS_COLOR}
      />

      <g fill="none" strokeWidth={1}>
        {seriesData.map((data, i) => (
          <path key={"s" + i} d={line(data) || ""} stroke={palette[i]} />
        ))}
      </g>

      {yTickValues.map((v, i) => (
        <text
          key={"yl" + i}
          x={59.5}
          y={y(v) + 3.3}
          textAnchor="end"
          fontFamily={FONT}
          fontSize={9.3}
          fill={TEXT_COLOR}
        >
          {yTickLabels[i]}
        </text>
      ))}
      {labelTimes.map((t, i) => (
        <text
          key={"xl" + i}
          x={x(t)}
          y={215.5}
          textAnchor="middle"
          fontFamily={FONT}
          fontSize={9.3}
          fill={TEXT_COLOR}
        >
          {fmt(t)}
        </text>
      ))}

      <text x={248.5} y={24} textAnchor="middle" fontFamily={FONT} fontSize={12.5} fill={TEXT_COLOR}>
        {title}
      </text>
      <text
        transform={`translate(14.5, ${(Y_TOP + Y_BOT) / 2}) rotate(-90)`}
        textAnchor="middle"
        fontFamily={FONT}
        fontSize={11}
        fill={TEXT_COLOR}
      >
        {yAxisTitle}
      </text>
      <text
        transform="translate(484, 5) rotate(90)"
        textAnchor="start"
        fontFamily={FONT}
        fontSize={7.5}
        fill="#CCCCCC"
      >
        {sideText}
      </text>

      {columnHeaders.map((h, j) => (
        <text key={"h" + j} x={headerX[j]} y={231.5} fontFamily={MONO} fontSize={9.9} fill={TEXT_COLOR}>
          {h}
        </text>
      ))}

      {legendName.map((name, i) => {
        const by = rowY0 + i * rowH;
        return (
          <g key={"lg" + i}>
            <rect x={14} y={by - 6.5} width={6} height={6} fill={palette[i]} />
            {legendPrefix[i] ? (
              <>
                <text x={26} y={by} fontFamily={MONO} fontSize={9.9} fill={TEXT_COLOR}>
                  {legendPrefix[i]}
                </text>
                <text x={92} y={by} fontFamily={MONO} fontSize={9.9} fill={TEXT_COLOR}>
                  {name}
                </text>
              </>
            ) : (
              <text x={26} y={by} fontFamily={MONO} fontSize={9.9} fill={TEXT_COLOR}>
                {name}
              </text>
            )}
            {valueCols.map((col, j) => {
              const [num, suf] = splitValue(col[i]);
              return (
                <g key={"v" + j}>
                  <text x={colX[j]} y={by} textAnchor="end" fontFamily={MONO} fontSize={9.9} fill={TEXT_COLOR}>
                    {num}
                  </text>
                  {suf ? (
                    <text x={colX[j]} y={by} fontFamily={MONO} fontSize={9.9} fill={TEXT_COLOR}>
                      {suf}
                    </text>
                  ) : null}
                </g>
              );
            })}
          </g>
        );
      })}

      <text x={483} y={662.5} textAnchor="end" fontFamily={MONO} fontSize={9.9} fill={TEXT_COLOR}>
        {lastUpdate}
      </text>
      <text x={247.5} y={675} textAnchor="middle" fontFamily={FONT} fontSize={7.5} fill="#CCCCCC">
        {munin}
      </text>
    </svg>
  );
}
